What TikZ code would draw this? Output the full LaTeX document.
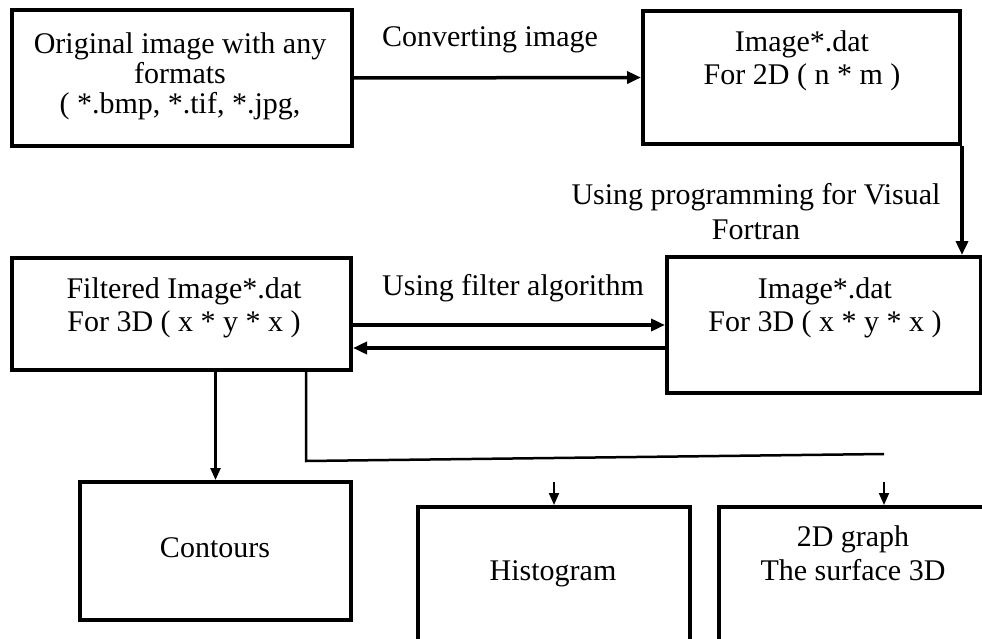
\documentclass[tikz,border=0pt]{standalone}
\usepackage{fontspec}
\setmainfont{Liberation Serif}
\usetikzlibrary{arrows.meta,calc}
\tikzset{
  box/.style={draw=black, line width=4pt, inner sep=0pt, fill=none},
  txt/.style={inner sep=0pt, align=center, font=\fontsize{30}{33}\selectfont},
  arr/.style={line width=3.5pt, -{Triangle[length=14pt,width=12pt]}},
  thinarr/.style={line width=2.5pt, -{Triangle[length=12pt,width=10pt]}},
  smallarr/.style={line width=2pt, -{Triangle[length=12pt,width=10pt]}},
  thinline/.style={line width=2.5pt},
}
\begin{document}
\begin{tikzpicture}[x=1pt,y=-1pt]
\clip (0,0) rectangle (982,639);
% boxes
\node[box, minimum width=340, minimum height=136] (orig) at (182,78) {};
\node[box, minimum width=317, minimum height=133] (img2d) at (801.5,77.5) {};
\node[box, minimum width=339, minimum height=112] (filt) at (181.5,314) {};
\node[box, minimum width=314, minimum height=136] (img3d) at (824,325) {};
\node[box, minimum width=271, minimum height=138] (cont) at (215.5,551) {};
\node[box, minimum width=272, minimum height=200] (hist) at (554,607) {};
\node[box, minimum width=330, minimum height=200] (surf) at (884,607) {};
% texts
\node[txt, anchor=north, font=\fontsize{30}{30}\selectfont] (torig) at (180,32) {Original image with any\\formats\\( *.bmp, *.tif, *.jpg,};
\node[txt, anchor=north] (timg2d) at (802,30) {Image*.dat\\For 2D ( n * m )};
\node[txt, anchor=north] (tfilt) at (184,277) {Filtered Image*.dat\\For 3D ( x * y * x )};
\node[txt, anchor=north] (timg3d) at (825,277) {Image*.dat\\For 3D ( x * y * x )};
\node[txt, anchor=base] (tcont) at (215,557) {Contours};
\node[txt, anchor=base] (thist) at (553,580) {Histogram};
\node[txt, anchor=north, font=\fontsize{30}{34}\selectfont] (tsurf) at (853,525) {2D graph\\The surface 3D};
% labels
\node[txt, anchor=base] (lconv) at (490,47) {Converting image};
\node[txt, anchor=north, font=\fontsize{30}{35}\selectfont] (lprog) at (756,183) {Using programming for Visual\\Fortran};
\node[txt, anchor=base] (lfilt) at (513,295) {Using filter algorithm};
% connectors
\draw[arr] (orig.east) -- (img2d.west);
\draw[arr] (img2d.south east) -- (img2d.south east |- img3d.north);
\draw[arr] (filt.east |- img3d.west) -- (img3d.west);
\coordinate (back) at ($(img3d.west)+(0,23)$);
\draw[arr] (back) -- (filt.east |- back);
\draw[thinarr] (cont.north |- filt.south) -- (cont.north);
\coordinate (br1) at (306,461);
\coordinate (br2) at (884,454);
\draw[thinline] (br1 |- filt.south) -- (br1) -- (br2);
\coordinate (h0) at (554,482);
\coordinate (s0) at (884,482);
\draw[smallarr] (h0) -- (hist.north);
\draw[smallarr] (s0) -- (surf.north);
\end{tikzpicture}
\end{document}
